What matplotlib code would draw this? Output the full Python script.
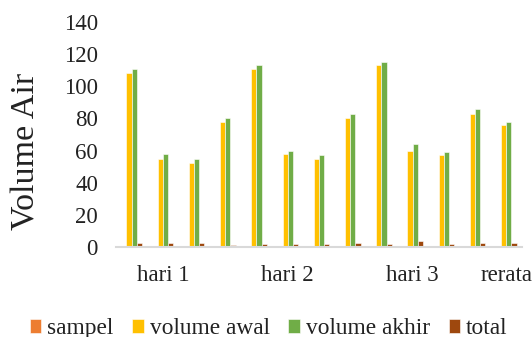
import numpy as np
import matplotlib.pyplot as plt

plt.rcParams['font.family'] = ['Liberation Serif', 'DejaVu Serif']

# 13 baris data: 4 sampel hari 1, 4 sampel hari 2, 4 sampel hari 3, rerata
tick_pos = [1, 5, 9, 12]
tick_labels = ['hari 1', 'hari 2', 'hari 3', 'rerata']

sampel = [0, 0, 0, 0, 0, 0, 0, 0, 0, 0, 0, 0, 0]
volume_awal = [108, 55, 52, 78, 111, 58, 55, 80, 113, 60, 57, 83, 76]
volume_akhir = [111, 58, 55, 80, 113, 60, 57, 83, 115, 64, 59, 86, 78]
total = [2.7, 2.7, 2.7, 1.5, 1.7, 1.7, 1.7, 2.7, 1.7, 3.7, 1.7, 2.7, 2.4]

series = [
    ('sampel', sampel, '#ED7D31'),
    ('volume awal', volume_awal, '#FFC000'),
    ('volume akhir', volume_akhir, '#70AD47'),
    ('total', total, '#9E480E'),
]

fig = plt.figure(figsize=(5.32, 3.37), dpi=100)
ax = fig.add_axes([0.218, 0.267, 0.763, 0.668])

x = np.arange(len(volume_awal))
w = 0.166
for i, (name, vals, col) in enumerate(series):
    ax.bar(x + (i - 1.5) * w, vals, width=w, color=col, label=name,
           edgecolor='white', linewidth=0.4)

ax.set_xlim(-0.5, len(x) - 0.5)
ax.set_ylim(0, 140)
ax.set_yticks(range(0, 141, 20))
ax.set_xticks(tick_pos)
ax.set_xticklabels(tick_labels)
ax.tick_params(axis='both', length=0, labelsize=16.5, colors='#222222')
ax.tick_params(axis='y', pad=13)
ax.tick_params(axis='x', pad=13)

for s in ['top', 'right', 'left']:
    ax.spines[s].set_visible(False)
ax.spines['bottom'].set_color('#D9D9D9')
ax.spines['bottom'].set_linewidth(1.5)

fig.text(0.049, 0.55, 'Volume Air', rotation=90, ha='center', va='center',
         fontsize=24.5, color='#222222')

fig.legend(loc='center', bbox_to_anchor=(0.505, 0.024), ncol=4, frameon=False,
           prop={'family': ['Liberation Serif'], 'size': 16.8},
           handlelength=0.5, handleheight=0.5,
           handletextpad=0.25, columnspacing=0.8, labelcolor='#222222')

fig.savefig('out.png', dpi=100)
